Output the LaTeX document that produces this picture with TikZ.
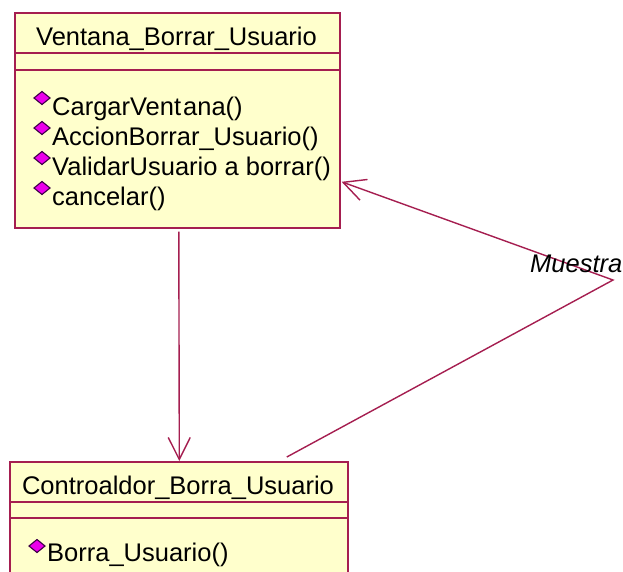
\documentclass[tikz,border=0pt]{standalone}
\usepackage{fontspec}
\setmainfont{Liberation Sans}
\usetikzlibrary{arrows.meta}
\definecolor{umlline}{RGB}{165,30,80}
\definecolor{umlfill}{RGB}{255,255,204}
\definecolor{diamfill}{RGB}{235,0,235}
\definecolor{diamdraw}{RGB}{60,0,70}
\newcommand{\umldiam}[1]{\filldraw[diampath] ([xshift=-8pt]#1) -- ([yshift=6.5pt]#1) -- ([xshift=8pt]#1) -- ([yshift=-6.5pt]#1) -- cycle;}
\begin{document}
\begin{tikzpicture}[x=1pt,y=-1pt,
  classbox/.style={draw=umlline, fill=umlfill, line width=1.6pt, rectangle, inner sep=0pt, anchor=north west},
  sepline/.style={draw=umlline, line width=1.6pt},
  txt/.style={font=\fontsize{25.5}{30}\selectfont, inner sep=0pt, text=black},
  meth/.style={txt, anchor=base west},
  diampath/.style={draw=diamdraw, fill=diamfill, line width=1.1pt, line join=miter},
  conn/.style={draw=umlline, line width=1.4pt},
  openhead/.style={-{Straight Barb[length=22pt,width=22pt,line width=1.4pt]}}
]
\useasboundingbox (0,0) rectangle (623,571);
\clip (0,0) rectangle (623,571);

% Ventana_Borrar_Usuario
\node[classbox, minimum width=325pt, minimum height=215pt] (ventana) at (14,12) {};
\draw[sepline] (14,53) -- (339,53);
\draw[sepline] (14,70) -- (339,70);
\node[txt, anchor=base] (vtitle) at (176.5,45) {Ventana\_Borrar\_Usuario};
\coordinate (d1) at (42,98); \umldiam{d1}
\node[meth] (m1) at (52,115) {CargarVent\hspace{2pt}ana()};
\coordinate (d2) at (42,128); \umldiam{d2}
\node[meth] (m2) at (52,145) {AccionBorrar\_Usuario()};
\coordinate (d3) at (42,158); \umldiam{d3}
\node[meth] (m3) at (52,175) {ValidarUsuario a borrar()};
\coordinate (d4) at (42,188); \umldiam{d4}
\node[meth] (m4) at (52,205) {cancelar()};

% Controaldor_Borra_Usuario
\node[classbox, minimum width=338pt, minimum height=130pt] (controlador) at (9,461) {};
\draw[sepline] (9,502) -- (347,502);
\draw[sepline] (9,518) -- (347,518);
\node[txt, anchor=base] (ctitle) at (178,494) {Controaldor\_Borra\_Usuario};
\coordinate (d5) at (37,546); \umldiam{d5}
\node[meth] (m5) at (47,561) {Borra\_Usuario()};

% connectors
\draw[conn, openhead] ([xshift=1.5pt,yshift=-3pt]ventana.south) -- ([xshift=0.5pt]controlador.north);
\coordinate (bend) at (613,280);
\draw[conn, openhead] ([xshift=108pt,yshift=4pt]controlador.north) -- (bend) -- ([xshift=1pt,yshift=-61.5pt]ventana.east);
\node[txt, font=\fontsize{25.5}{30}\selectfont\itshape, anchor=base west] (lbl) at (530,272) {Muestra};
\end{tikzpicture}
\end{document}
